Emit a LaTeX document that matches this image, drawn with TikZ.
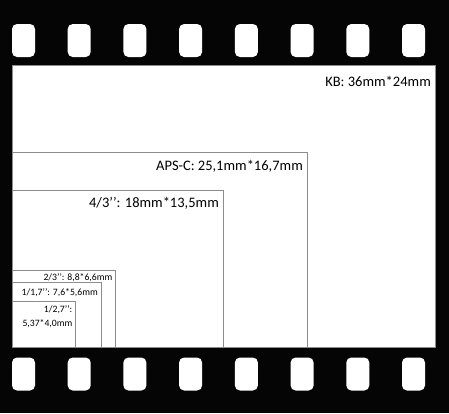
\documentclass[tikz,border=0pt]{standalone}
\usepackage{fontspec}
\setmainfont{Carlito}
\begin{document}
\begin{tikzpicture}[x=1pt,y=-1pt,
  hole/.style={fill=white,rounded corners=5pt},
  fmt/.style={draw=black!45,line width=0.9pt},
  big/.style={font=\fontsize{14.5}{16}\selectfont,inner sep=0pt},
  small/.style={font=\fontsize{9.7}{11}\selectfont,inner sep=0pt}]
\fill[black!98] (0,0) rectangle (449,413);
\useasboundingbox (0,0) rectangle (449,413);
% sprocket holes
\foreach \x in {12,67.7,123.4,179.1,234.9,290.6,346.3,402} {
  \fill[hole] (\x,24) rectangle ++(23,33);
  \fill[hole] (\x,357.5) rectangle ++(23,33);
}
% full frame
\node[fill=white,draw=black!45,line width=0.9pt,minimum width=423pt,minimum height=282pt,inner sep=0pt,anchor=south west] (kb) at (12,348) {};
% formats, anchored bottom-left
\coordinate (bl) at (12,348);
\draw[fmt] (bl) |- (307,152) coordinate (apsc) -- (307,348);
\draw[fmt] (bl) |- (223.5,190) coordinate (ft) -- (223.5,348);
\draw[fmt] (bl) |- (115.4,270.4) coordinate (tt) -- (115.4,348);
\draw[fmt] (bl) |- (101.3,282.2) coordinate (oo) -- (101.3,348);
\draw[fmt] (bl) |- (75.3,301) coordinate (ot) -- (75.3,348);
% labels
\node[big,anchor=base east] (lkb) at (431,86.5) {KB: 36mm*24mm};
\node[big,anchor=base east] (lapsc) at (303,170.5) {APS-C: 25,1mm*16,7mm};
\node[big,anchor=base east] (lft) at (219,207.5) {4/3’’: 18mm*13,5mm};
\node[small,anchor=base east] (ltt) at (112.5,280.5) {2/3’’: 8,8*6,6mm};
\node[small,anchor=base east] (loo) at (98,295) {1/1,7’’: 7,6*5,6mm};
\node[small,anchor=base east] (lot1) at (72.5,312.5) {1/2,7’’:};
\node[small,anchor=base east] (lot2) at (72.5,326) {5,37*4,0mm};
\end{tikzpicture}
\end{document}
